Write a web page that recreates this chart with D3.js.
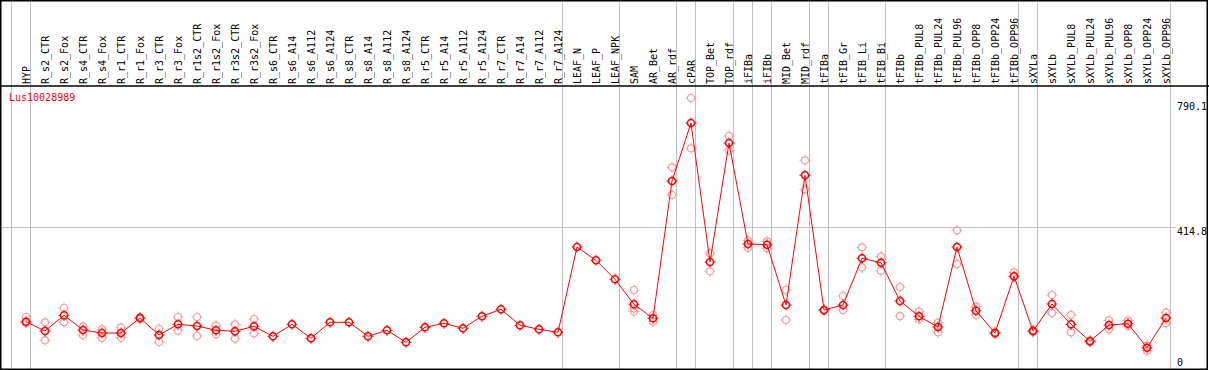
<!DOCTYPE html>
<html>
<head>
<meta charset="utf-8">
<script src="https://cdn.jsdelivr.net/npm/d3@7"></script>
<style>
  body { margin: 0; background: #fff; }
  svg { display: block; }
  text { font-family: "DejaVu Sans Mono", monospace; font-size: 10px; }
</style>
</head>
<body>
<div id="vis"></div>
<script>
const W = 1209, H = 370
const geneName = 'Lus10028989'

const samples = ['HYP', 'R_s2_CTR', 'R_s2_Fox', 'R_s4_CTR', 'R_s4_Fox', 'R_r1_CTR', 'R_r1_Fox',
  'R_r3_CTR', 'R_r3_Fox', 'R_r1s2_CTR', 'R_r1s2_Fox', 'R_r3s2_CTR', 'R_r3s2_Fox',
  'R_s6_CTR', 'R_s6_A14', 'R_s6_A112', 'R_s6_A124', 'R_s8_CTR', 'R_s8_A14', 'R_s8_A112', 'R_s8_A124',
  'R_r5_CTR', 'R_r5_A14', 'R_r5_A112', 'R_r5_A124', 'R_r7_CTR', 'R_r7_A14', 'R_r7_A112', 'R_r7_A124',
  'LEAF_N', 'LEAF_P', 'LEAF_NPK', 'SAM', 'AR_Bet', 'AR_rdf', 'cPAR', 'TOP_Bet', 'TOP_rdf',
  'iFIBa', 'iFIBb', 'MID_Bet', 'MID_rdf', 'tFIBa', 'tFIB_Gr', 'tFIB_Li', 'tFIB_Bi',
  'tFIBb', 'tFIBb_PUL8', 'tFIBb_PUL24', 'tFIBb_PUL96', 'tFIBb_OPP8', 'tFIBb_OPP24', 'tFIBb_OPP96',
  'sXYLa', 'sXYLb', 'sXYLb_PUL8', 'sXYLb_PUL24', 'sXYLb_PUL96', 'sXYLb_OPP8', 'sXYLb_OPP24', 'sXYLb_OPP96']

// mean expression per sample
const means = [139.1, 112.0, 157.7, 114.9, 106.2, 106.2, 149.9,
  100.4, 131.5, 126.6, 114.1, 111.2, 125.7,
  96.6, 131.5, 90.8, 137.4, 137.4, 96.6, 114.1, 79.2,
  122.8, 134.4, 119.9, 154.8, 175.2, 128.6, 117.0, 108.3,
  356.5, 317.8, 262.5, 189.7, 149.0, 548.6, 717.3, 312.8, 659.1,
  365.2, 363.2, 187.7, 565.1, 173.2, 187.7, 323.6, 310.8,
  199.3, 154.8, 123.7, 356.5, 171.1, 106.2, 271.2,
  112.0, 190.6, 131.5, 82.1, 129.5, 133.3, 63.4, 149.9]

// individual replicates
const replicates = [[152.8, 135.3], [137.4, 85.0], [179.0, 137.4], [124.6, 100.4], [117.0, 92.5], [121.6, 92.5], [151.9, 147.0],
  [117.9, 80.0], [152.8, 112.9], [152.8, 97.5], [127.5, 102.4], [131.5, 89.6], [147.0, 105.3],
  [], [], [], [], [], [], [], [],
  [], [], [], [], [], [], [], [],
  [], [], [], [231.3, 177.5, 168.8], [158.6, 139.1], [588.4, 507.8], [790.1, 643.7], [338.2, 285.8], [679.5, 636.7],
  [374.8, 354.4], [373.1, 352.7], [231.3, 144.0], [608.8, 524.4], [173.2, 170.2], [213.9, 173.2], [355.6, 297.4], [328.3, 287.5],
  [240.1, 155.1], [168.2, 146.1], [136.2, 108.3], [405.1, 307.0], [182.8, 158.6], [108.3, 103.3], [282.9, 270.1],
  [114.9, 109.1], [216.8, 164.4], [158.6, 108.3], [84.4, 80.0], [143.2, 117.0], [142.0, 126.6], [69.3, 54.7], [165.3, 134.4]]

// group boundaries (drawn after these samples)
const groupEnds = ['HYP', 'R_r7_A124', 'LEAF_NPK', 'AR_rdf', 'cPAR', 'TOP_rdf', 'iFIBa', 'iFIBb',
  'MID_rdf', 'tFIBa', 'tFIB_Bi', 'tFIBb_OPP96', 'sXYLa', 'sXYLb_OPP96']

const yTicks = [0, 414.8, 790.1]
const yGrid = [414.8]

const x = d3.scaleBand(samples, [11, 11 + 19 * samples.length])
const y = d3.scaleLinear([0, 790.1], [369.5, 98])
const px = s => x(s) + 15

const svg = d3.select('#vis').append('svg')
  .attr('width', W)
  .attr('height', H)

// vertical group lines
svg.append('line')
  .attr('x1', x(samples[0]) + 0.5).attr('x2', x(samples[0]) + 0.5)
  .attr('y1', 0).attr('y2', H)
  .attr('stroke', '#c0c0c0')
svg.selectAll('.vgrid')
  .data(groupEnds)
  .enter()
  .append('line')
    .attr('class', 'vgrid')
    .attr('x1', d => x(d) + x.bandwidth() + 0.5)
    .attr('x2', d => x(d) + x.bandwidth() + 0.5)
    .attr('y1', 0).attr('y2', H)
    .attr('stroke', '#c0c0c0')

// horizontal grid
svg.selectAll('.hgrid')
  .data(yGrid)
  .enter()
  .append('line')
    .attr('class', 'hgrid')
    .attr('x1', 1).attr('x2', 1176)
    .attr('y1', d => Math.round(y(d)) + 0.5)
    .attr('y2', d => Math.round(y(d)) + 0.5)
    .attr('stroke', '#c0c0c0')

// header labels
svg.selectAll('.slabel')
  .data(samples)
  .enter()
  .append('text')
    .attr('class', 'slabel')
    .attr('transform', d => `translate(${x(d) + x.bandwidth()},84) rotate(-90)`)
    .attr('fill', 'black')
    .text(d => d)

// header separator
svg.append('line')
  .attr('x1', 0).attr('x2', W)
  .attr('y1', 86).attr('y2', 86)
  .attr('stroke', 'black')
  .attr('stroke-width', 1.5)

// y labels
svg.selectAll('.ylabel')
  .data(yTicks)
  .enter()
  .append('text')
    .attr('class', 'ylabel')
    .attr('x', 1177)
    .attr('y', d => d === 0 ? y(d) - 3.5 : y(d) + (d === 790.1 ? 12 : 8.5))
    .attr('fill', 'black')
    .text(d => d)

svg.append('text')
  .attr('x', 9)
  .attr('y', 101)
  .attr('fill', 'red')
  .text(geneName)

// marker: circle with four tiny ticks
function marker(g, color, sw) {
  g.append('circle').attr('r', 3.5).attr('fill', 'none')
    .attr('stroke', color).attr('stroke-width', sw)
  g.append('path')
    .attr('d', 'M0,-3.5V-5.5M0,3.5V5.5M-3.5,0H-5.5M3.5,0H5.5')
    .attr('stroke', color).attr('stroke-width', 1)
}

// replicates
const reps = samples.flatMap((s, i) => replicates[i].map(v => ({s, v})))
svg.selectAll('.rep')
  .data(reps)
  .enter()
  .append('g')
    .attr('class', 'rep')
    .attr('transform', d => `translate(${px(d.s)},${y(d.v)})`)
    .each(function() { marker(d3.select(this), '#f0a0a0', 1.2) })

// mean line
const line = d3.line()
  .x((d, i) => px(samples[i]))
  .y(d => y(d))
svg.append('path')
  .datum(means)
  .attr('d', line)
  .attr('fill', 'none')
  .attr('stroke', 'red')
  .attr('stroke-width', 1)

svg.selectAll('.mean')
  .data(means)
  .enter()
  .append('g')
    .attr('class', 'mean')
    .attr('transform', (d, i) => `translate(${px(samples[i])},${y(d)})`)
    .each(function() { marker(d3.select(this), 'red', 1.6) })

// frame
svg.append('rect')
  .attr('x', 0.75).attr('y', 0.75)
  .attr('width', 1206.5).attr('height', 368.5)
  .attr('fill', 'none')
  .attr('stroke', 'black')
  .attr('stroke-width', 1.5)
</script>
</body>
</html>
